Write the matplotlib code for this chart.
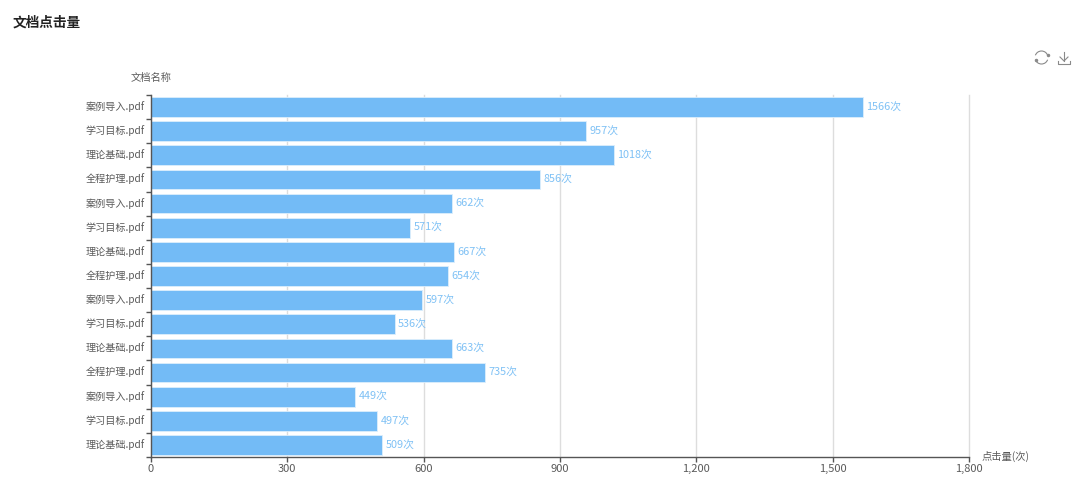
import numpy as np
import matplotlib
matplotlib.use('Agg')
import matplotlib.pyplot as plt
from matplotlib.patches import Arc
from matplotlib.transforms import ScaledTranslation

plt.rcParams['font.family'] = ['Noto Sans CJK SC', 'DejaVu Sans']

title = '文档点击量'
y_name = '文档名称'
x_name = '点击量(次)'
categories = ['案例导入.pdf', '学习目标.pdf', '理论基础.pdf', '全程护理.pdf',
              '案例导入.pdf', '学习目标.pdf', '理论基础.pdf', '全程护理.pdf',
              '案例导入.pdf', '学习目标.pdf', '理论基础.pdf', '全程护理.pdf',
              '案例导入.pdf', '学习目标.pdf', '理论基础.pdf']
values = [1566, 957, 1018, 856, 662, 571, 667, 654, 597, 536, 663, 735, 449, 497, 509]
x_ticks = [0, 300, 600, 900, 1200, 1500, 1800]

W, H = 1080, 484
fig = plt.figure(figsize=(W / 100, H / 100), dpi=100)
L, R, T, B = 151, 969, 95, 457
ax = fig.add_axes([L / W, 1 - B / H, (R - L) / W, (B - T) / H])

bar_color = '#73BBF6'
label_color = '#7FC1F5'
text_color = '#5A5A5A'
axis_color = '#555555'

y = np.arange(len(categories))
ax.barh(y, values, height=0.82, color=bar_color, edgecolor='#DCEEFC', linewidth=0.6, zorder=3)
ax.set_ylim(len(categories) - 0.5, -0.5)
ax.set_xlim(0, 1800)

label_lift = ScaledTranslation(0, -0.5 / 100, fig.dpi_scale_trans)
for yi, v in zip(y, values):
    ann = ax.annotate(f'{v}次', (v, yi), xytext=(2.5, -0.4), textcoords='offset points',
                      va='center', ha='left', fontsize=7.8, color=label_color, zorder=4)

ax.set_xticks(x_ticks)
ax.set_xticklabels([f'{t:,}' for t in x_ticks])
ax.set_yticks(np.arange(len(categories) + 1) - 0.5, minor=False)
ax.set_yticklabels([''] * (len(categories) + 1))
ax.set_yticks(y, minor=True)
ax.set_yticklabels(categories, minor=True)
ax.tick_params(axis='y', which='major', length=3.5, width=1, color=axis_color)
ax.tick_params(axis='y', which='minor', length=0, pad=4.5, labelsize=7.25, labelcolor=text_color)
ax.tick_params(axis='x', length=3.5, width=1, color=axis_color, pad=1.5, labelsize=8, labelcolor=text_color)
ax.grid(axis='x', color='#DDDDDD', linewidth=1, zorder=0, clip_on=False)
for g in ax.get_xgridlines():
    g.set_clip_on(False)
ax.set_axisbelow(True)

# lift the category labels slightly so they sit centred on their bars
lift = ScaledTranslation(0, 1.5 / 100, fig.dpi_scale_trans)
for lab in ax.get_yticklabels(minor=True):
    lab.set_transform(lab.get_transform() + lift)

for s in ('top', 'right'):
    ax.spines[s].set_visible(False)
for s in ('left', 'bottom'):
    ax.spines[s].set_color(axis_color)
    ax.spines[s].set_linewidth(1)
    ax.spines[s].set_zorder(5)

def fx(px):
    return px / W
def fy(py):
    return 1 - py / H

fig.text(fx(13), fy(22.5), title, fontsize=9.8, fontweight='bold', color='#222222', va='center', ha='left')
fig.text(fx(151), fy(77.5), y_name, fontsize=7.4, color=text_color, va='center', ha='center')
fig.text(fx(982), fy(456.5), x_name, fontsize=7.4, color=text_color, va='center', ha='left')

# toolbar icons (overlay axes in pixel coordinates)
ov = fig.add_axes([0, 0, 1, 1], facecolor='none')
ov.set_xlim(0, W)
ov.set_ylim(H, 0)
ov.axis('off')
icon = '#8A8A8A'
ov.add_patch(Arc((1041.5, 57.5), 13, 13, theta1=200, theta2=340, color=icon, lw=0.8))
ov.add_patch(Arc((1041.5, 57.5), 13, 13, theta1=20, theta2=160, color=icon, lw=0.8))
ov.plot([1047.5], [55], marker='o', ms=1.5, color=icon)
ov.plot([1035.5], [60], marker='o', ms=1.5, color=icon)
ov.plot([1064, 1064], [52, 61], color=icon, lw=0.8)
ov.plot([1060, 1064, 1068], [57, 61, 57], color=icon, lw=0.8)
ov.plot([1058, 1058, 1070, 1070], [60.5, 64, 64, 60.5], color=icon, lw=0.8)

fig.savefig('out.png', dpi=100)
